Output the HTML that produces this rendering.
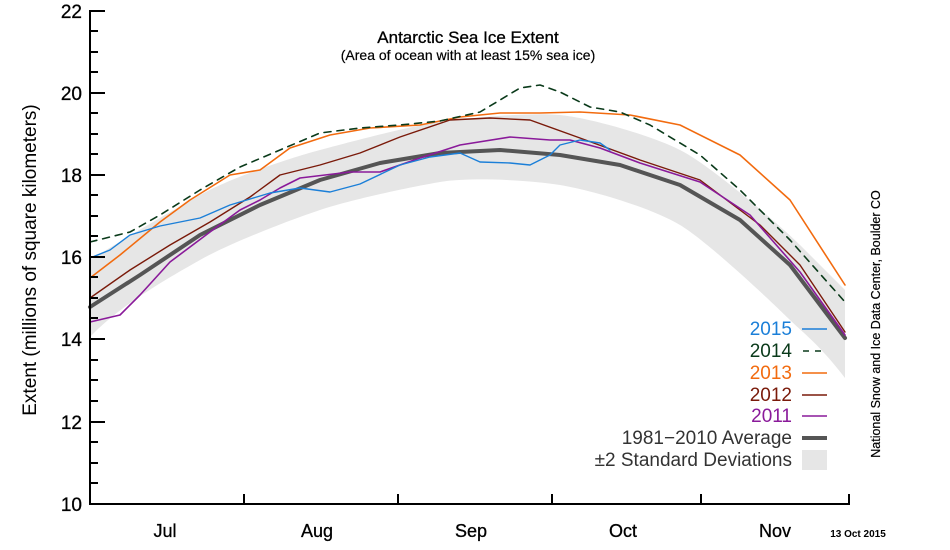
<!DOCTYPE html>
<html><head><meta charset="utf-8"><style>
body{margin:0;background:#fff;}
svg{display:block;font-family:"Liberation Sans",Arial,sans-serif;}
</style></head><body>
<svg width="950" height="550" viewBox="0 0 950 550" xmlns="http://www.w3.org/2000/svg">
<rect width="950" height="550" fill="#fff"/>
<path d="M90,260 C130,235 170,212 200,195 S290,158 320,150 S410,126 440,122 S530,112 560,115 S650,135 680,150 S780,225 800,245 L845,290 L845,378 C820,345 800,330 790,320 S710,243 680,225 S590,190 560,185 S470,177 440,182 S350,200 320,210 S230,243 200,260 S120,305 90,337 Z" fill="#e6e6e6"/>
<g fill="none" stroke-linejoin="round" stroke-linecap="round">
<polyline stroke="#555" stroke-width="4" points="90,307 140,275 200,235 260,205 320,180 380,163 440,153 500,150 560,155 620,165 680,185 740,220 790,265 845,338"/>
<polyline stroke="#f26b0f" stroke-width="1.6" points="90,278 120,255 160,222 190,200 230,175 260,170 290,148 330,135 370,128 420,125 460,117 500,113 540,113 580,112 630,115 680,125 740,155 790,200 845,285"/>
<polyline stroke="#7a1a0a" stroke-width="1.4" points="90,298 130,270 170,245 210,222 250,197 280,175 320,165 360,153 400,137 450,120 490,118 530,120 580,138 640,160 700,180 760,225 800,265 845,332"/>
<polyline stroke="#8a1a9a" stroke-width="1.6" points="90,322 120,315 140,295 170,262 210,232 240,210 260,200 280,188 300,178 350,172 380,172 420,158 460,145 510,137 550,140 570,140 600,148 640,163 700,182 750,215 800,272 845,335"/>
<polyline stroke="#0a3a1a" stroke-width="1.6" stroke-dasharray="7,6" points="90,242 130,232 160,215 200,190 240,167 280,150 320,133 360,128 400,125 440,121 480,112 500,100 520,88 540,85 560,92 590,107 620,112 650,125 700,155 740,190 790,240 845,302"/>
<polyline stroke="#1b7fd8" stroke-width="1.4" points="90,258 110,250 130,235 160,226 200,218 230,205 270,193 300,188 330,192 360,184 400,165 430,157 460,153 480,162 510,163 530,165 550,155 560,145 580,140 600,143 610,150"/>
</g>
<g stroke="#000" stroke-width="2">
<line x1="90" y1="10" x2="90" y2="504"/>
<line x1="89" y1="504" x2="850" y2="504"/>
<line x1="90" y1="11" x2="105" y2="11"/><line x1="90" y1="93" x2="105" y2="93"/><line x1="90" y1="175" x2="105" y2="175"/><line x1="90" y1="257" x2="105" y2="257"/><line x1="90" y1="339" x2="105" y2="339"/><line x1="90" y1="422" x2="105" y2="422"/>
<line x1="90" y1="31" x2="98" y2="31"/><line x1="90" y1="52" x2="98" y2="52"/><line x1="90" y1="72" x2="98" y2="72"/>
<line x1="90" y1="113" x2="98" y2="113"/><line x1="90" y1="134" x2="98" y2="134"/><line x1="90" y1="154" x2="98" y2="154"/>
<line x1="90" y1="195" x2="98" y2="195"/><line x1="90" y1="216" x2="98" y2="216"/><line x1="90" y1="236" x2="98" y2="236"/>
<line x1="90" y1="277" x2="98" y2="277"/><line x1="90" y1="298" x2="98" y2="298"/><line x1="90" y1="318" x2="98" y2="318"/>
<line x1="90" y1="360" x2="98" y2="360"/><line x1="90" y1="380" x2="98" y2="380"/><line x1="90" y1="401" x2="98" y2="401"/>
<line x1="90" y1="442" x2="98" y2="442"/><line x1="90" y1="463" x2="98" y2="463"/><line x1="90" y1="483" x2="98" y2="483"/>
<line x1="244" y1="494" x2="244" y2="504"/><line x1="398" y1="494" x2="398" y2="504"/><line x1="552" y1="494" x2="552" y2="504"/><line x1="701" y1="494" x2="701" y2="504"/><line x1="849" y1="494" x2="849" y2="504"/>
</g>
<g font-size="19" text-anchor="end" fill="#000" stroke="#000" stroke-width="0.3">
<text x="82" y="18">22</text><text x="82" y="100">20</text><text x="82" y="182">18</text><text x="82" y="264">16</text><text x="82" y="346">14</text><text x="82" y="429">12</text><text x="82" y="511">10</text>
</g>
<g font-size="18" text-anchor="middle" fill="#000" stroke="#000" stroke-width="0.3">
<text x="165" y="537">Jul</text><text x="317" y="537">Aug</text><text x="471" y="537">Sep</text><text x="623" y="537">Oct</text><text x="775" y="537">Nov</text>
</g>
<text x="468" y="43" font-size="17" text-anchor="middle" stroke="#000" stroke-width="0.3">Antarctic Sea Ice Extent</text>
<text x="468" y="60" font-size="14" text-anchor="middle" stroke="#000" stroke-width="0.2">(Area of ocean with at least 15% sea ice)</text>
<text transform="translate(36,260) rotate(-90)" font-size="19" text-anchor="middle">Extent (millions of square kilometers)</text>
<text transform="translate(880,324) rotate(-90)" font-size="12.5" text-anchor="middle" stroke="#000" stroke-width="0.2">National Snow and Ice Data Center, Boulder CO</text>
<text x="858" y="537" font-size="10" font-weight="bold" text-anchor="middle">13 Oct 2015</text>
<g font-size="19" text-anchor="end">
<text x="792" y="335" fill="#1b7fd8">2015</text>
<text x="792" y="357" fill="#0a3a1a">2014</text>
<text x="792" y="379" fill="#f26b0f">2013</text>
<text x="792" y="401" fill="#7a1a0a">2012</text>
<text x="792" y="422" fill="#8a1a9a">2011</text>
<text x="792" y="444" fill="#333">1981−2010 Average</text>
<text x="792" y="466" fill="#333">±2 Standard Deviations</text>
</g>
<g stroke-width="1.6">
<line x1="802" y1="329" x2="827" y2="329" stroke="#1b7fd8"/>
<line x1="803" y1="351" x2="827" y2="351" stroke="#0a3a1a" stroke-dasharray="6,6"/>
<line x1="802" y1="373" x2="827" y2="373" stroke="#f26b0f"/>
<line x1="802" y1="395" x2="827" y2="395" stroke="#7a1a0a"/>
<line x1="802" y1="416" x2="827" y2="416" stroke="#8a1a9a"/>
<line x1="802" y1="438" x2="827" y2="438" stroke="#555" stroke-width="4"/>
</g>
<rect x="802" y="450" width="25" height="20" fill="#e6e6e6"/>
</svg>
</body></html>
